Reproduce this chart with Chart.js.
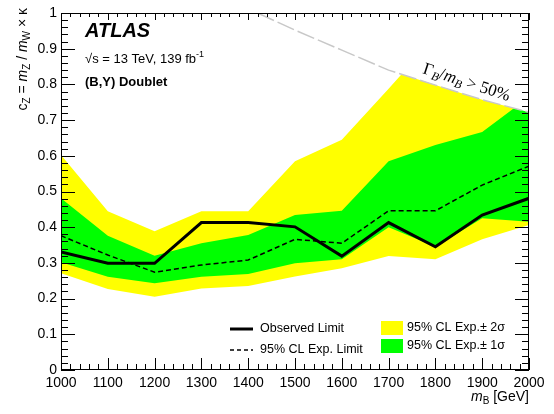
<!DOCTYPE html>
<html>
<head>
<meta charset="utf-8">
<script src="https://cdn.jsdelivr.net/npm/chart.js@4/dist/chart.umd.min.js"></script>
<style>
  html, body { margin: 0; padding: 0; background: #fff; }
</style>
</head>
<body>
<canvas id="limitChart" width="554" height="414"></canvas>
<script>
// masses in GeV
const masses = [1000, 1100, 1200, 1300, 1400, 1500, 1600, 1700, 1800, 1900, 2000];
const observed = [0.331, 0.299, 0.299, 0.413, 0.413, 0.401, 0.319, 0.413, 0.345, 0.434, 0.481];
const expected = [0.376, 0.322, 0.274, 0.294, 0.308, 0.366, 0.355, 0.446, 0.446, 0.518, 0.571];
const exp1sUp = [0.481, 0.376, 0.320, 0.355, 0.378, 0.434, 0.446, 0.585, 0.630, 0.667, 0.765];
const exp1sDown = [0.302, 0.261, 0.243, 0.261, 0.269, 0.299, 0.310, 0.400, 0.345, 0.425, 0.415];
const exp2sUp = [0.602, 0.445, 0.389, 0.445, 0.445, 0.585, 0.645, 0.788, 0.934, 0.960, 0.980];
const exp2sDown = [0.271, 0.227, 0.205, 0.228, 0.235, 0.262, 0.285, 0.319, 0.310, 0.366, 0.406];

// Gamma_B / m_B > 50% boundary
const widthMasses = [1420, 1500, 1600, 1700, 1800, 1900, 2000];
const widthLimit = [1.0, 0.952, 0.896, 0.840, 0.798, 0.757, 0.722];

const xTickLabels = ['1000', '1100', '1200', '1300', '1400', '1500', '1600', '1700', '1800', '1900', '2000'];
const yTickLabels = ['0', '0.1', '0.2', '0.3', '0.4', '0.5', '0.6', '0.7', '0.8', '0.9', '1'];

const SANS = '"Liberation Sans", Arial, sans-serif';
const SERIF = '"Liberation Serif", "Times New Roman", serif';

function pts(xv, yv) {
  return xv.map((x, i) => ({ x: x, y: yv[i] }));
}

// draw a list of text pieces in a row, returns total width
function richText(ctx, parts, x, y, measureOnly) {
  let w = 0;
  parts.forEach(p => {
    ctx.font = p.font;
    if (!measureOnly) ctx.fillText(p.t, x + w, y + (p.dy || 0));
    w += ctx.measureText(p.t).width;
  });
  return w;
}

const decorations = {
  id: 'decorations',
  afterDraw(chart) {
    const ctx = chart.ctx;
    const a = chart.chartArea;
    const xs = chart.scales.x, ys = chart.scales.y;
    ctx.save();

    // frame and ticks
    ctx.strokeStyle = '#000';
    ctx.lineWidth = 1;
    ctx.strokeRect(Math.round(a.left) + 0.5, Math.round(a.top) + 0.5,
      Math.round(a.right - a.left) - 1, Math.round(a.bottom - a.top) - 1);
    ctx.beginPath();
    for (let m = 1000; m <= 2000; m += 20) {
      const px = Math.round(xs.getPixelForValue(m)) + 0.5;
      const major = m % 100 === 0;
      ctx.moveTo(px, a.bottom);
      ctx.lineTo(px, a.bottom - (major ? 12 : 6));
      ctx.moveTo(px, a.top);
      ctx.lineTo(px, a.top + (major ? 7 : 4));
    }
    for (let i = 0; i <= 50; i++) {
      const py = Math.round(ys.getPixelForValue(i * 0.02)) + 0.5;
      const major = i % 5 === 0;
      ctx.moveTo(a.left, py);
      ctx.lineTo(a.left + (major ? 14 : 7), py);
      ctx.moveTo(a.right, py);
      ctx.lineTo(a.right - (major ? 14 : 7), py);
    }
    ctx.stroke();

    ctx.fillStyle = '#000';
    ctx.textBaseline = 'alphabetic';
    ctx.textAlign = 'left';

    // x axis title, right aligned
    const xt = [
      { t: 'm', font: 'italic 14px ' + SANS },
      { t: 'B', font: '10px ' + SANS, dy: 3 },
      { t: ' [GeV]', font: '14px ' + SANS }
    ];
    const xw = richText(ctx, xt, 0, 0, true);
    richText(ctx, xt, a.right - xw, 401, false);

    // y axis title, rotated, aligned to top
    const yt = [
      { t: 'c', font: '14px ' + SANS },
      { t: 'Z', font: '10px ' + SANS, dy: 3 },
      { t: ' = ', font: '14px ' + SANS },
      { t: 'm', font: 'italic 14px ' + SANS },
      { t: 'Z', font: '10px ' + SANS, dy: 3 },
      { t: ' / ', font: '14px ' + SANS },
      { t: 'm', font: 'italic 14px ' + SANS },
      { t: 'W', font: '10px ' + SANS, dy: 3 },
      { t: ' \u00d7 \u03ba', font: '14px ' + SANS }
    ];
    const yw = richText(ctx, yt, 0, 0, true);
    ctx.save();
    ctx.translate(27, 8 + yw);
    ctx.rotate(-Math.PI / 2);
    richText(ctx, yt, 0, 0, false);
    ctx.restore();

    // ATLAS label block
    ctx.font = 'bold italic 20px ' + SANS;
    ctx.fillText('ATLAS', 85, 37);
    richText(ctx, [
      { t: '\u221as = 13 TeV, 139 fb', font: '13px ' + SANS },
      { t: '-1', font: '9px ' + SANS, dy: -6 }
    ], 85, 63, false);
    ctx.font = 'bold 13px ' + SANS;
    ctx.fillText('(B,Y) Doublet', 85, 86);

    // width boundary label
    ctx.save();
    ctx.translate(422, 73);
    ctx.rotate(18 * Math.PI / 180);
    richText(ctx, [
      { t: '\u0393', font: '17px ' + SERIF },
      { t: 'B', font: 'italic 12px ' + SERIF, dy: 3 },
      { t: '/', font: '17px ' + SERIF },
      { t: 'm', font: 'italic 17px ' + SERIF },
      { t: 'B', font: 'italic 12px ' + SERIF, dy: 3 },
      { t: ' > 50%', font: '17px ' + SERIF }
    ], 0, 0, false);
    ctx.restore();

    // legend
    const ds = chart.data.datasets;
    ctx.font = '12.5px ' + SANS;
    ctx.textBaseline = 'middle';
    ctx.strokeStyle = '#000';
    ctx.lineWidth = 3;
    ctx.beginPath();
    ctx.moveTo(230, 329); ctx.lineTo(253, 329);
    ctx.stroke();
    ctx.lineWidth = 1.5;
    ctx.setLineDash([4, 3]);
    ctx.beginPath();
    ctx.moveTo(230, 350); ctx.lineTo(253, 350);
    ctx.stroke();
    ctx.setLineDash([]);
    ctx.fillText(ds[0].label, 260, 329);
    ctx.fillText(ds[1].label, 260, 350);
    ctx.fillStyle = ds[6].backgroundColor;
    ctx.fillRect(381, 321, 22, 14);
    ctx.fillStyle = ds[4].backgroundColor;
    ctx.fillRect(381, 339, 22, 14);
    ctx.fillStyle = '#000';
    ctx.fillText(ds[6].label, 407, 328);
    ctx.fillText(ds[4].label, 407, 346);

    ctx.restore();
  }
};

const ctx = document.getElementById('limitChart').getContext('2d');
const limitChart = new Chart(ctx, {
  type: 'line',
  data: {
    datasets: [
      {
        label: 'Observed Limit',
        data: pts(masses, observed),
        borderColor: '#000',
        borderWidth: 3,
        order: 0
      },
      {
        label: '95% CL Exp. Limit',
        data: pts(masses, expected),
        borderColor: '#000',
        borderWidth: 1.5,
        borderDash: [5, 3],
        order: 1
      },
      {
        label: 'width limit',
        data: pts(widthMasses, widthLimit),
        borderColor: '#c8c8c8',
        borderWidth: 1.5,
        borderDash: [18, 4],
        backgroundColor: '#ffffff',
        fill: 'end',
        order: 2
      },
      {
        label: 'exp 1s down',
        data: pts(masses, exp1sDown),
        borderColor: 'rgba(0,0,0,0)',
        borderWidth: 0,
        order: 3
      },
      {
        label: '95% CL Exp.\u00b1 1\u03c3',
        data: pts(masses, exp1sUp),
        borderColor: 'rgba(0,0,0,0)',
        borderWidth: 0,
        backgroundColor: '#00ff00',
        fill: '-1',
        order: 3
      },
      {
        label: 'exp 2s down',
        data: pts(masses, exp2sDown),
        borderColor: 'rgba(0,0,0,0)',
        borderWidth: 0,
        order: 4
      },
      {
        label: '95% CL Exp.\u00b1 2\u03c3',
        data: pts(masses, exp2sUp),
        borderColor: 'rgba(0,0,0,0)',
        borderWidth: 0,
        backgroundColor: '#ffff00',
        fill: '-1',
        order: 4
      }
    ]
  },
  options: {
    responsive: false,
    animation: false,
    elements: {
      point: { radius: 0, hoverRadius: 0 },
      line: { tension: 0 }
    },
    layout: { padding: { left: 0, right: 25, top: 13, bottom: 0 } },
    plugins: {
      legend: { display: false },
      tooltip: { enabled: false }
    },
    scales: {
      x: {
        type: 'linear',
        min: 1000,
        max: 2000,
        afterFit: s => { s.height = 44; },
        border: { display: false },
        grid: { display: true, drawOnChartArea: false, drawTicks: false },
        ticks: {
          stepSize: 100,
          autoSkip: false,
          maxRotation: 0,
          padding: 5,
          color: '#000',
          font: { family: SANS, size: 14 },
          callback: (v, i) => xTickLabels[i]
        }
      },
      y: {
        min: 0,
        max: 1,
        afterFit: s => { s.width = 61; },
        border: { display: false },
        grid: { display: true, drawOnChartArea: false, drawTicks: false },
        ticks: {
          stepSize: 0.1,
          autoSkip: false,
          padding: 4,
          color: '#000',
          font: { family: SANS, size: 14 },
          callback: (v, i) => yTickLabels[i]
        }
      }
    }
  },
  plugins: [decorations]
});
</script>
</body>
</html>
